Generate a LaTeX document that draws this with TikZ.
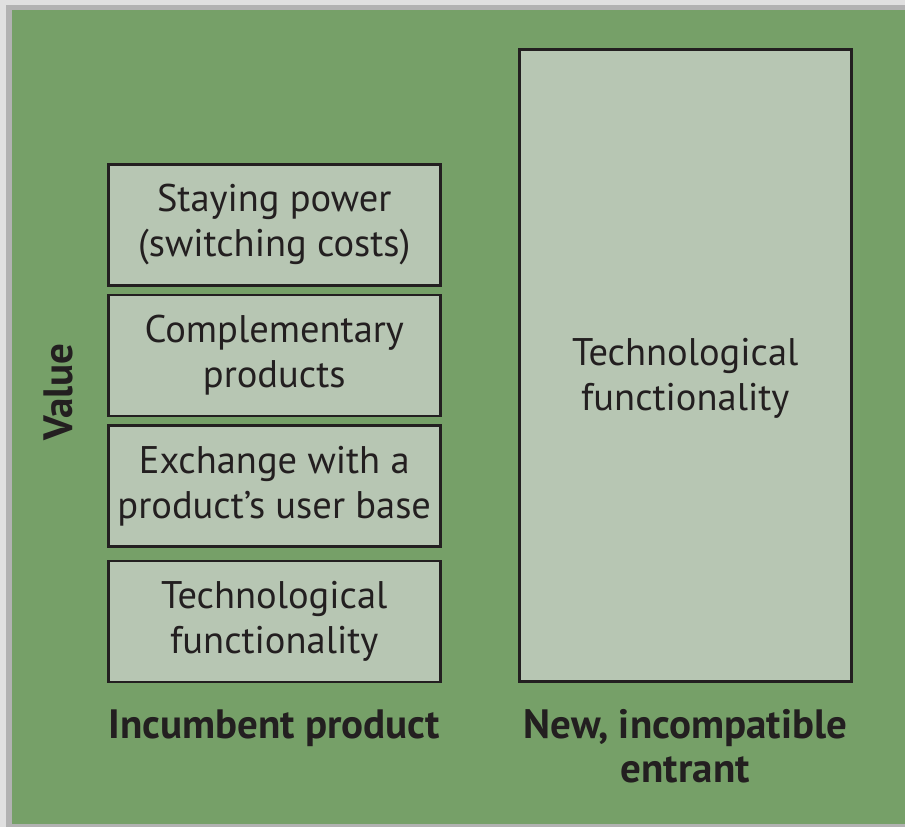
\documentclass[tikz,border=0pt]{standalone}
\usepackage{fontspec}
\setmainfont{PT Sans}
\usetikzlibrary{positioning}
\definecolor{panelgreen}{RGB}{118,160,104}
\definecolor{boxfill}{RGB}{183,198,179}
\definecolor{inkblack}{RGB}{35,31,32}

\begin{document}
\begin{tikzpicture}[
    x=1pt, y=-1pt,
    block/.style={rectangle, draw=inkblack, line width=2.5pt, fill=boxfill, minimum width=332pt, minimum height=121pt, inner sep=0pt, align=center, text=inkblack, font=\fontsize{38.5}{45}\selectfont},
    bodytext/.style={align=center, inner sep=0pt, text=inkblack, font=\fontsize{38.5}{45}\selectfont},
    caption/.style={align=center, inner sep=0pt, text=inkblack, font=\bfseries\fontsize{41}{44}\selectfont}
]
    \useasboundingbox (0,0) rectangle (905,827);

    % Frame and shadow
    \fill[black!12] (0,0) rectangle (905,827);
    \fill[black!30] (6,5) rectangle (905,827);
    \fill[panelgreen] (12,10) rectangle (905,824);

    % Incumbent product
    \node[block, anchor=north west] (staying) at (107,163) {Staying power\\(switching costs)};
    \node[block, below=7pt of staying] (complement) {Complementary\\products};
    \node[block, below=7pt of complement] (userbase) {Exchange with a\\product’s user base};
    \node[block, below=12pt of userbase] (techold) {Technological\\functionality};

    % New entrant
    \node[block, minimum height=632pt, anchor=north west] (entrant) at (518,48) {};
    \node[bodytext] (technew) at ([yshift=-13pt]entrant.center) {Technological\\functionality};

    % Labels
    \node[caption, below=27pt of techold] (incumbent) {Incumbent product};
    \node[caption, below=27pt of entrant] (newentrant) {New, incompatible\\entrant};
    \node[caption, rotate=90, anchor=base] (value) at (72,392) {Value};
\end{tikzpicture}
\end{document}
